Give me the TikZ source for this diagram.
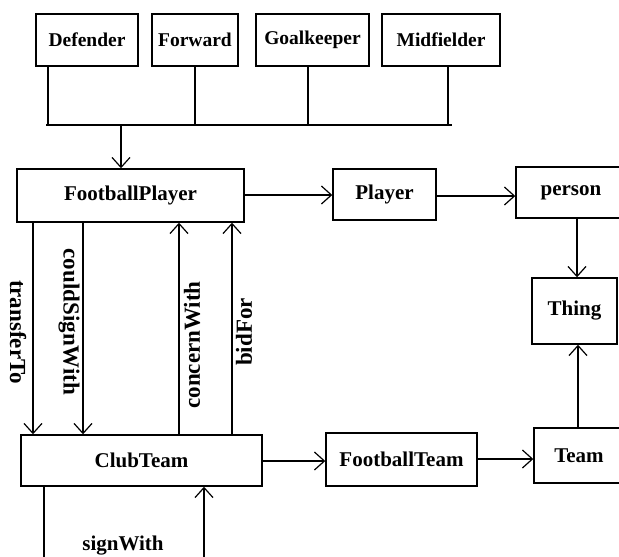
\documentclass[tikz,border=0pt]{standalone}
\usepackage{fontspec}
\setmainfont{Liberation Serif}
\usetikzlibrary{arrows.meta}
\begin{document}
\begin{tikzpicture}[x=1pt,y=-1pt,
  box/.style={draw,line width=1.4pt,inner sep=0pt,font=\fontsize{21}{24}\selectfont\bfseries},
  topbox/.style={box,font=\fontsize{19.5}{22}\selectfont\bfseries},
  lbl/.style={font=\fontsize{23}{25}\selectfont\bfseries,inner sep=0pt},
  ln/.style={line width=1.2pt},
  arr/.style={ln,-{Straight Barb[length=10pt,width=18pt,line width=1.2pt]}}]
\useasboundingbox (0,0) rectangle (619,557);
% top boxes
\node[topbox,minimum width=102pt,minimum height=52pt] (def) at (87,40) {Defender};
\node[topbox,minimum width=86pt,minimum height=52pt] (fwd) at (195,40) {Forward};
\node[topbox,minimum width=113pt,minimum height=52pt] (gk) at (312.5,40) {Goalkeeper};
\node[topbox,minimum width=118pt,minimum height=52pt] (mid) at (441,40) {Midfielder};
% main boxes
\node[box,minimum width=227pt,minimum height=53pt] (fp) at (130.5,195.5) {FootballPlayer};
\node[box,minimum width=103pt,minimum height=51pt] (pl) at (384.5,194.5) {Player};
\node[box,minimum width=110pt,minimum height=51pt] (pe) at (571,192.5) {person};
\node[box,minimum width=85pt,minimum height=66pt] (th) at (574.5,311) {Thing};
\node[box,minimum width=241pt,minimum height=51pt] (ct) at (141.5,460.5) {ClubTeam};
\node[box,minimum width=151pt,minimum height=53pt] (ft) at (401.5,459.5) {FootballTeam};
\node[box,minimum width=90pt,minimum height=55pt] (tm) at (579,455.5) {Team};
% hierarchy bar
\coordinate (bl) at (46,125);
\coordinate (br) at (452,125);
\coordinate (bm) at (121,125);
\draw[ln] (bl) -- (br);
\draw[ln] (def.south -| 48,0) -- (bl -| 48,0);
\draw[ln] (fwd.south -| 195,0) -- (bl -| 195,0);
\draw[ln] (gk.south -| 308,0) -- (bl -| 308,0);
\draw[ln] (mid.south -| 448,0) -- (bl -| 448,0);
\draw[arr] (bm) -- (fp.north -| bm);
% right chain
\draw[arr] (fp.east |- 0,195) -- (pl.west |- 0,195);
\draw[arr] (pl.east |- 0,196) -- (pe.west |- 0,196);
\draw[arr] (pe.south -| 577,0) -- (th.north -| 577,0);
\draw[arr] (tm.north -| 578,0) -- (th.south -| 578,0);
\draw[arr] (ct.east |- 0,461) -- (ft.west |- 0,461);
\draw[arr] (ft.east |- 0,459) -- (tm.west |- 0,459);
% relations
\draw[arr] (fp.south -| 33,0) -- (ct.north -| 33,0);
\draw[arr] (fp.south -| 83,0) -- (ct.north -| 83,0);
\draw[arr] (ct.north -| 179,0) -- (fp.south -| 179,0);
\draw[arr] (ct.north -| 232,0) -- (fp.south -| 232,0);
\node[lbl,rotate=-90] (l1) at (18,332) {transferTo};
\node[lbl,rotate=-90] (l2) at (69,322) {couldSignWith};
\node[lbl,rotate=90] (l3) at (192,345) {concernWith};
\node[lbl,rotate=90] (l4) at (244,332) {bidFor};
% signWith loop (cut by the edge)
\coordinate (sl) at (44,560);
\coordinate (sr) at (204,560);
\draw[ln] (ct.south -| sl) -- (sl);
\draw[arr] (sr) -- (ct.south -| sr);
\node[lbl,font=\fontsize{21}{24}\selectfont\bfseries] (l5) at (123,546) {signWith};
\end{tikzpicture}
\end{document}
